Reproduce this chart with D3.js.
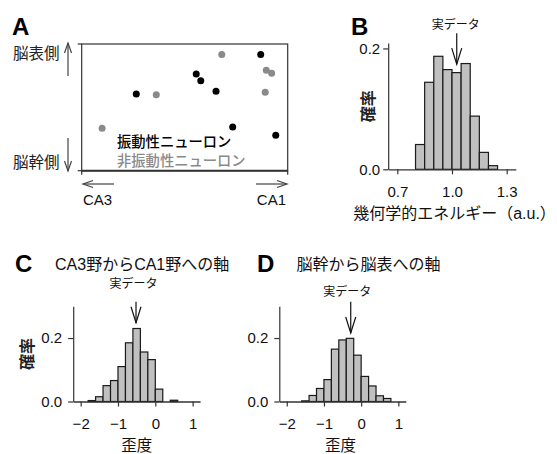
<!DOCTYPE html>
<html><head><meta charset="utf-8">
<script src="https://cdn.jsdelivr.net/npm/d3@7"></script>
<style>
body{margin:0;background:#fff;}
text{font-family:"Liberation Sans","Noto Sans CJK JP",sans-serif;}
</style></head>
<body>
<svg id="c" width="557" height="454"></svg>
<script>
// ---- Data ----
// Panel A: positions (normalized 0-1, CA3→CA1 on x, brainstem→surface on y)
const oscX = [0.265, 0.556, 0.578, 0.652, 0.869, 0.733, 0.942];
const oscY = [0.605, 0.763, 0.710, 0.627, 0.918, 0.345, 0.279];
const nonX = [0.099, 0.362, 0.680, 0.896, 0.922, 0.891];
const nonY = [0.335, 0.600, 0.918, 0.792, 0.769, 0.619];
const legendLabels = ["振動性ニューロン", "非振動性ニューロン"];

// Panel B: geometric energy histogram
const binsB = [0.80, 0.85, 0.90, 0.95, 1.00, 1.05, 1.10, 1.15, 1.20];
const probB = [0.041, 0.144, 0.187, 0.165, 0.160, 0.175, 0.088, 0.028, 0.006];
const widthB = 0.05;
const ticksBx = [0.7, 1.0, 1.3];
const ticksBy = [0.0, 0.2];
const actualB = 1.026;

// Panel C: skewness along CA3→CA1
const binsC = [-1.8, -1.6, -1.4, -1.2, -1.0, -0.8, -0.6, -0.4, -0.2, 0.0, 0.2, 0.4];
const probC = [0.003, 0.015, 0.050, 0.066, 0.110, 0.185, 0.230, 0.156, 0.132, 0.039, 0.0, 0.004];
// Panel D: skewness along brainstem→surface
const binsD = [-1.6, -1.4, -1.2, -1.0, -0.8, -0.6, -0.4, -0.2, 0.0, 0.2, 0.4, 0.6];
const probD = [0.002, 0.019, 0.041, 0.069, 0.165, 0.194, 0.199, 0.146, 0.079, 0.049, 0.018, 0.0095];
const widthCD = 0.2;
const ticksCDx = [-2, -1, 0, 1];
const ticksCDy = [0.0, 0.2];
const actualC = -0.517;
const actualD = -0.28;

const svg = d3.select("#c");
const axisCol = "#333";
const fmt = d3.format(".1f");

function arrowHead(g, x, y, dir, len, half, col) {
  // dir: "up","down","left","right" ; (x,y) is the tip
  let pts;
  if (dir === "up") pts = [[x - half, y + len], [x, y], [x + half, y + len]];
  if (dir === "down") pts = [[x - half, y - len], [x, y], [x + half, y - len]];
  if (dir === "left") pts = [[x + len, y - half], [x, y], [x + len, y + half]];
  if (dir === "right") pts = [[x - len, y - half], [x, y], [x - len, y + half]];
  g.append("path").attr("d", d3.line()(pts)).attr("fill", "none")
    .attr("stroke", col).attr("stroke-width", 1.2);
}

// ---- Panel A ----
(function () {
  const x = d3.scaleLinear().domain([0, 1]).range([81.7, 287.7]);
  const y = d3.scaleLinear().domain([0, 1]).range([170.7, 44]);
  const g = svg.append("g");
  g.append("text").text("A").attr("x", 12).attr("y", 35)
    .attr("font-size", 24).attr("font-weight", "bold");
  g.append("rect").attr("x", x(0)).attr("y", y(1)).attr("width", x(1) - x(0))
    .attr("height", y(0) - y(1)).attr("fill", "none").attr("stroke", axisCol).attr("stroke-width", 1.2);
  // axis end ticks
  const ax = g.append("g").attr("stroke", axisCol).attr("stroke-width", 1.2);
  [0, 1].forEach(v => {
    ax.append("line").attr("x1", x(v)).attr("x2", x(v)).attr("y1", y(0)).attr("y2", y(0) + 4);
    ax.append("line").attr("x1", x(0) - 4).attr("x2", x(0)).attr("y1", y(v)).attr("y2", y(v));
  });
  g.append("line").attr("x1", x(0)).attr("x2", x(1)).attr("y1", y(0)).attr("y2", y(0))
    .attr("stroke", axisCol).attr("stroke-width", 2);

  g.selectAll("circle.non").data(nonX).enter().append("circle")
    .attr("cx", (d) => x(d)).attr("cy", (d, i) => y(nonY[i])).attr("r", 3.5).attr("fill", "#8a8a8a");
  g.selectAll("circle.osc").data(oscX).enter().append("circle")
    .attr("cx", (d) => x(d)).attr("cy", (d, i) => y(oscY[i])).attr("r", 3.5).attr("fill", "#000");

  g.append("text").text(legendLabels[0]).attr("x", 117).attr("y", 147)
    .attr("font-size", 14.3).attr("fill", "#000").attr("font-weight", 500);
  g.append("text").text(legendLabels[1]).attr("x", 117).attr("y", 166)
    .attr("font-size", 14.3).attr("fill", "#8a8a8a").attr("font-weight", 500);

  // side labels and arrows
  g.append("text").text("脳表側").attr("x", 13).attr("y", 59).attr("font-size", 15.5).attr("fill", "#222");
  g.append("text").text("脳幹側").attr("x", 13).attr("y", 168).attr("font-size", 15.5).attr("fill", "#222");
  const ac = "#444";
  g.append("line").attr("x1", 68).attr("x2", 68).attr("y1", 43).attr("y2", 76).attr("stroke", ac).attr("stroke-width", 1.2);
  arrowHead(g, 68, 43, "up", 10, 3.5, ac);
  g.append("line").attr("x1", 68).attr("x2", 68).attr("y1", 138).attr("y2", 171).attr("stroke", ac).attr("stroke-width", 1.2);
  arrowHead(g, 68, 171, "down", 10, 3.5, ac);
  g.append("line").attr("x1", 83).attr("x2", 114).attr("y1", 184).attr("y2", 184).attr("stroke", ac).attr("stroke-width", 1.2);
  arrowHead(g, 83, 184, "left", 10, 3.5, ac);
  g.append("line").attr("x1", 256).attr("x2", 287).attr("y1", 184).attr("y2", 184).attr("stroke", ac).attr("stroke-width", 1.2);
  arrowHead(g, 287, 184, "right", 10, 3.5, ac);
  g.append("text").text("CA3").attr("x", 83).attr("y", 205).attr("font-size", 15).attr("fill", "#111");
  g.append("text").text("CA1").attr("x", 286).attr("y", 205).attr("font-size", 15)
    .attr("text-anchor", "end").attr("fill", "#111");
})();

// ---- Histogram helper ----
function histPanel(o) {
  const g = svg.append("g");
  const x = d3.scaleLinear().domain(o.xDomain).range(o.xRange);
  const y = d3.scaleLinear().domain(o.yDomain).range(o.yRange);
  // bars
  g.selectAll("rect").data(o.bins).enter().append("rect")
    .attr("x", d => x(d)).attr("width", d => x(d + o.width) - x(d))
    .attr("y", (d, i) => y(o.probs[i])).attr("height", (d, i) => y(0) - y(o.probs[i]))
    .attr("fill", "#c0c0c0").attr("stroke", "#1a1a1a").attr("stroke-width", 1.2);
  // x axis
  const xa = g.append("g").attr("transform", `translate(0,${y(0)})`)
    .call(d3.axisBottom(x).tickValues(o.xTicks).tickSize(5).tickSizeOuter(0).tickFormat(o.xFmt));
  xa.select(".domain").attr("stroke", axisCol).attr("stroke-width", 1.3);
  xa.selectAll(".tick line").attr("stroke", axisCol).attr("stroke-width", 1.2);
  xa.selectAll(".tick text").attr("font-size", 15).attr("fill", "#111")
    .attr("font-family", "Liberation Sans, sans-serif").attr("dy", "0.71em").attr("y", 17);
  // y axis
  const ya = g.append("g").attr("transform", `translate(${x(o.xDomain[0])},0)`)
    .call(d3.axisLeft(y).tickValues(o.yTicks).tickSize(5).tickSizeOuter(0).tickFormat(fmt));
  ya.select(".domain").attr("stroke", axisCol).attr("stroke-width", 1.2);
  ya.selectAll(".tick line").attr("stroke", axisCol).attr("stroke-width", 1.2);
  ya.selectAll(".tick text").attr("font-size", 15).attr("fill", "#111")
    .attr("font-family", "Liberation Sans, sans-serif").attr("x", -o.labelGap);
  // panel letter
  g.append("text").text(o.letter).attr("x", o.letterX).attr("y", o.letterY)
    .attr("font-size", 24).attr("font-weight", "bold");
  if (o.title) g.append("text").text(o.title).attr("x", o.titleX).attr("y", o.letterY - 2)
    .attr("font-size", 16).attr("fill", "#111");
  // y label
  if (o.yLabel) g.append("text").text(o.yLabel)
    .attr("transform", `translate(${o.yLabelX},${(y(o.yDomain[0]) + y(o.yDomain[1])) / 2}) rotate(-90)`)
    .attr("text-anchor", "middle").attr("dy", "0.35em").attr("font-size", 16)
    .attr("font-weight", "bold").attr("fill", "#222");
  // x label
  g.append("text").text(o.xLabel)
    .attr("x", (o.xRange[0] + o.xRange[1]) / 2 + o.xLabelDx).attr("y", o.xLabelY)
    .attr("text-anchor", "middle").attr("font-size", o.xLabelSize).attr("fill", "#111");
  // actual-data arrow
  const ax = x(o.actual);
  const y1 = y(o.arrowTop), y2 = y(o.arrowTip);
  g.append("line").attr("x1", ax).attr("x2", ax).attr("y1", y1).attr("y2", y2)
    .attr("stroke", "#111").attr("stroke-width", 1.2);
  arrowHead(g, ax, y2, "down", 16, 5, "#111");
  g.append("text").text("実データ").attr("x", ax + o.annDx).attr("y", o.annY)
    .attr("text-anchor", "middle").attr("font-size", 12).attr("fill", "#111");
}

histPanel({
  letter: "B", letterX: 351, letterY: 35,
  bins: binsB, probs: probB, width: widthB,
  xDomain: [0.65, 1.35], xRange: [388.2, 515.8],
  yDomain: [0, 0.209], yRange: [169.3, 43],
  xTicks: ticksBx, yTicks: ticksBy, xFmt: fmt, labelGap: 8,
  yLabel: "確率", yLabelX: 368,
  xLabel: "幾何学的エネルギー（a.u.）", xLabelY: 219, xLabelDx: 2.5, xLabelSize: 16,
  actual: actualB, arrowTop: 0.225, arrowTip: 0.174, annY: 29, annDx: -1
});

histPanel({
  letter: "C", letterX: 15, letterY: 272, title: "CA3野からCA1野への軸", titleX: 55,
  bins: binsC, probs: probC, width: widthCD,
  xDomain: [-2.2, 1.2], xRange: [73.2, 200.1],
  yDomain: [0, 0.3], yRange: [401.5, 306.3],
  xTicks: ticksCDx, yTicks: ticksCDy, xFmt: d3.format("d"), labelGap: 11,
  yLabel: "確率", yLabelX: 27,
  xLabel: "歪度", xLabelY: 451, xLabelDx: 0, xLabelSize: 15.5,
  actual: actualC, arrowTop: 0.314, arrowTip: 0.248, annY: 288, annDx: -2.5
});

histPanel({
  letter: "D", letterX: 257, letterY: 272, title: "脳幹から脳表への軸", titleX: 296.5,
  bins: binsD, probs: probD, width: widthCD,
  xDomain: [-2.2, 1.2], xRange: [279.3, 405.8],
  yDomain: [0, 0.3], yRange: [401.5, 306.3],
  xTicks: ticksCDx, yTicks: ticksCDy, xFmt: d3.format("d"), labelGap: 11,
  yLabel: null,
  xLabel: "歪度", xLabelY: 451, xLabelDx: -2, xLabelSize: 15.5,
  actual: actualD, arrowTop: 0.314, arrowTip: 0.216, annY: 296, annDx: -3.5
});
</script>
</body></html>
